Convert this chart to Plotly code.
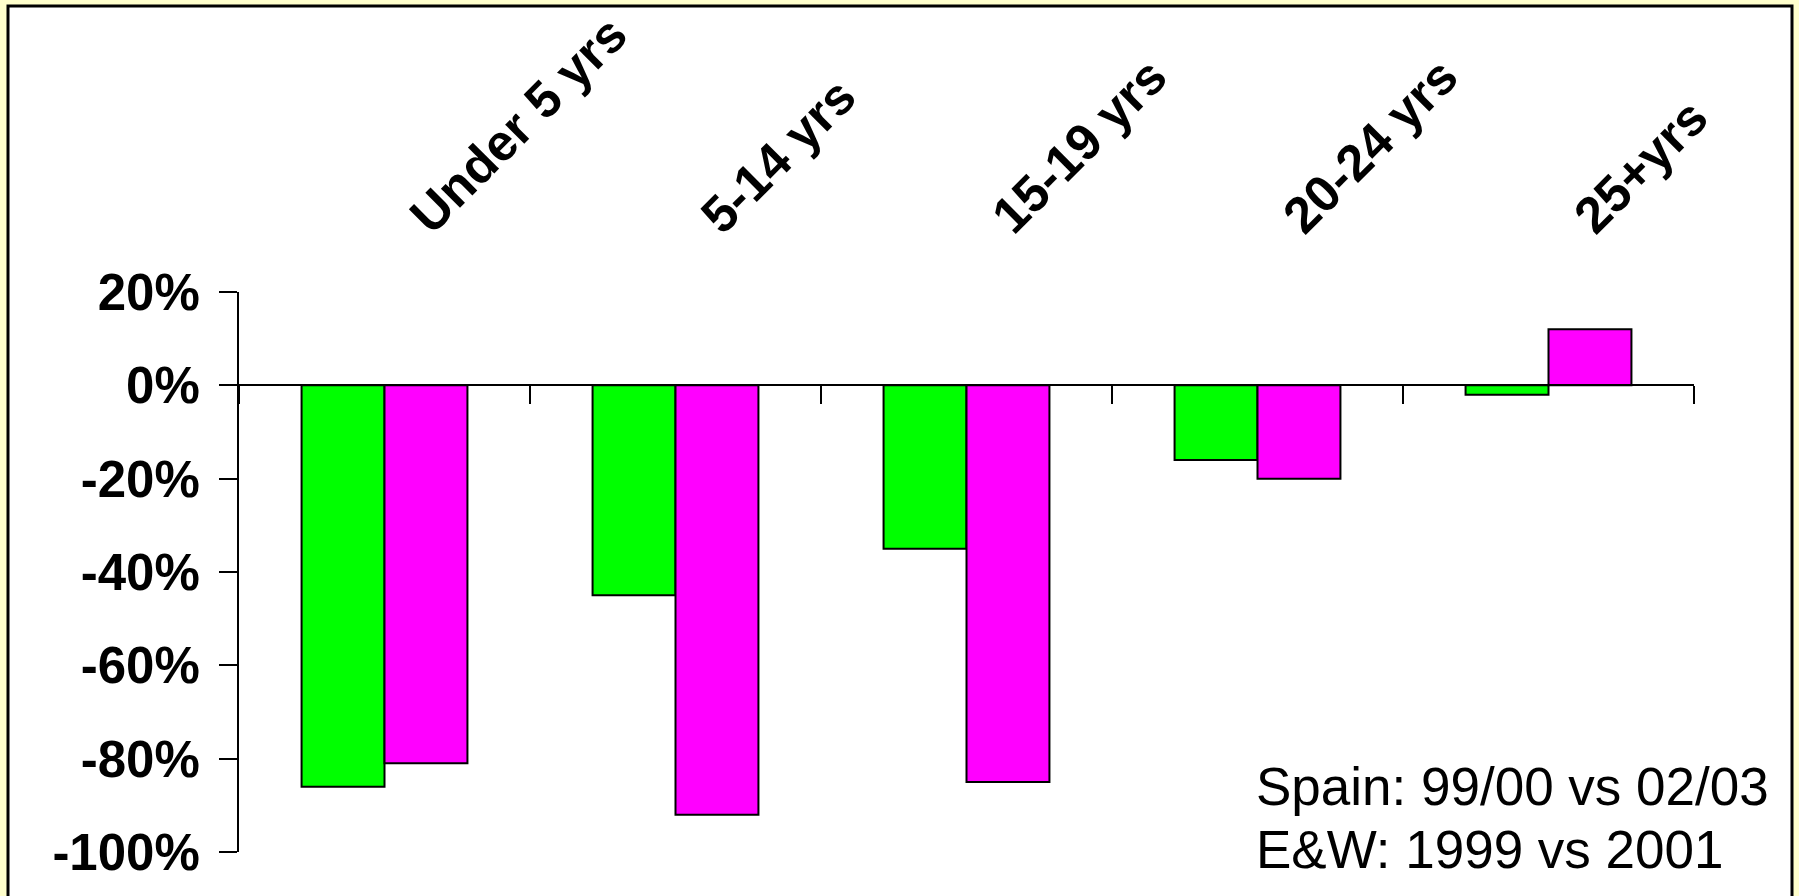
import plotly.graph_objects as go

# Age groups and percentage changes (as fractions)
categories = ["Under 5 yrs", "5-14 yrs", "15-19 yrs", "20-24 yrs", "25+yrs"]
spain_change = [-0.86, -0.45, -0.35, -0.16, -0.02]
ew_change = [-0.81, -0.92, -0.85, -0.20, 0.12]

y_tick_values = [0.2, 0.0, -0.2, -0.4, -0.6, -0.8, -1.0]
y_tick_labels = ["20%", "0%", "-20%", "-40%", "-60%", "-80%", "-100%"]

note_lines = ["Spain: 99/00 vs 02/03", "E&W: 1999 vs 2001"]

W, H = 1799, 896
ML, MR, MT, MB = 239, 105, 292, 44
PW, PH = W - ML - MR, H - MT - MB
Y_MIN, Y_MAX = -1.0, 0.2


def px_x(px):
    return (px - ML) / PW


def px_y(py):
    return (H - MB - py) / PH


FONT = "Liberation Sans, Arial, sans-serif"

fig = go.Figure()
fig.add_trace(go.Bar(
    x=categories, y=spain_change, name="Spain",
    marker=dict(color="#00FF00", line=dict(color="black", width=2)),
))
fig.add_trace(go.Bar(
    x=categories, y=ew_change, name="E&W",
    marker=dict(color="#FF00FF", line=dict(color="black", width=2)),
))
# invisible trace carrying the top category labels
fig.add_trace(go.Bar(
    x=categories, y=[0] * len(categories), xaxis="x2", showlegend=False,
    marker=dict(color="rgba(0,0,0,0)"), hoverinfo="skip",
))

zero_pos = (0 - Y_MIN) / (Y_MAX - Y_MIN)

fig.update_layout(
    width=W, height=H,
    margin=dict(l=ML, r=MR, t=MT, b=MB, autoexpand=False),
    paper_bgcolor="#FFFFCC",
    plot_bgcolor="rgba(0,0,0,0)",
    showlegend=False,
    barmode="group",
    bargap=0.43,
    bargroupgap=0,
    font=dict(family=FONT, color="black"),
    xaxis=dict(
        type="category",
        anchor="free", position=zero_pos,
        showline=True, linecolor="black", linewidth=2,
        ticks="outside", tickson="boundaries", ticklen=18, tickwidth=2,
        tickcolor="black", automargin=False,
        showticklabels=False, showgrid=False, zeroline=False,
    ),
    xaxis2=dict(
        type="category", overlaying="x", matches="x", side="top", anchor="y",
        showline=False, ticks="", showgrid=False, zeroline=False,
        tickangle=-45, automargin=False,
        tickfont=dict(family=FONT, size=51, weight="bold", color="black"),
        ticklabelstandoff=37, ticklabelshift=29,
    ),
    yaxis=dict(
        range=[Y_MIN, Y_MAX],
        tickvals=y_tick_values, ticktext=y_tick_labels,
        showline=True, linecolor="black", linewidth=2,
        ticks="outside", ticklen=18, tickwidth=2, tickcolor="black",
        tickfont=dict(family=FONT, size=51, weight="bold", color="black"),
        ticklabelstandoff=9, automargin=False,
        showgrid=False, zeroline=False,
    ),
    shapes=[
        dict(
            type="rect", xref="paper", yref="paper", layer="below",
            x0=px_x(8), x1=px_x(1792), y0=px_y(6), y1=px_y(920),
            fillcolor="white", line=dict(color="black", width=3),
        ),
    ],
    annotations=[
        dict(
            text=note_lines[0], xref="paper", yref="paper",
            x=px_x(1254), y=px_y(786), xanchor="left", yanchor="middle",
            showarrow=False, font=dict(family=FONT, size=53, color="black"),
        ),
        dict(
            text=note_lines[1], xref="paper", yref="paper",
            x=px_x(1254), y=px_y(849), xanchor="left", yanchor="middle",
            showarrow=False, font=dict(family=FONT, size=53, color="black"),
        ),
    ],
)

fig.write_html("out.html")
